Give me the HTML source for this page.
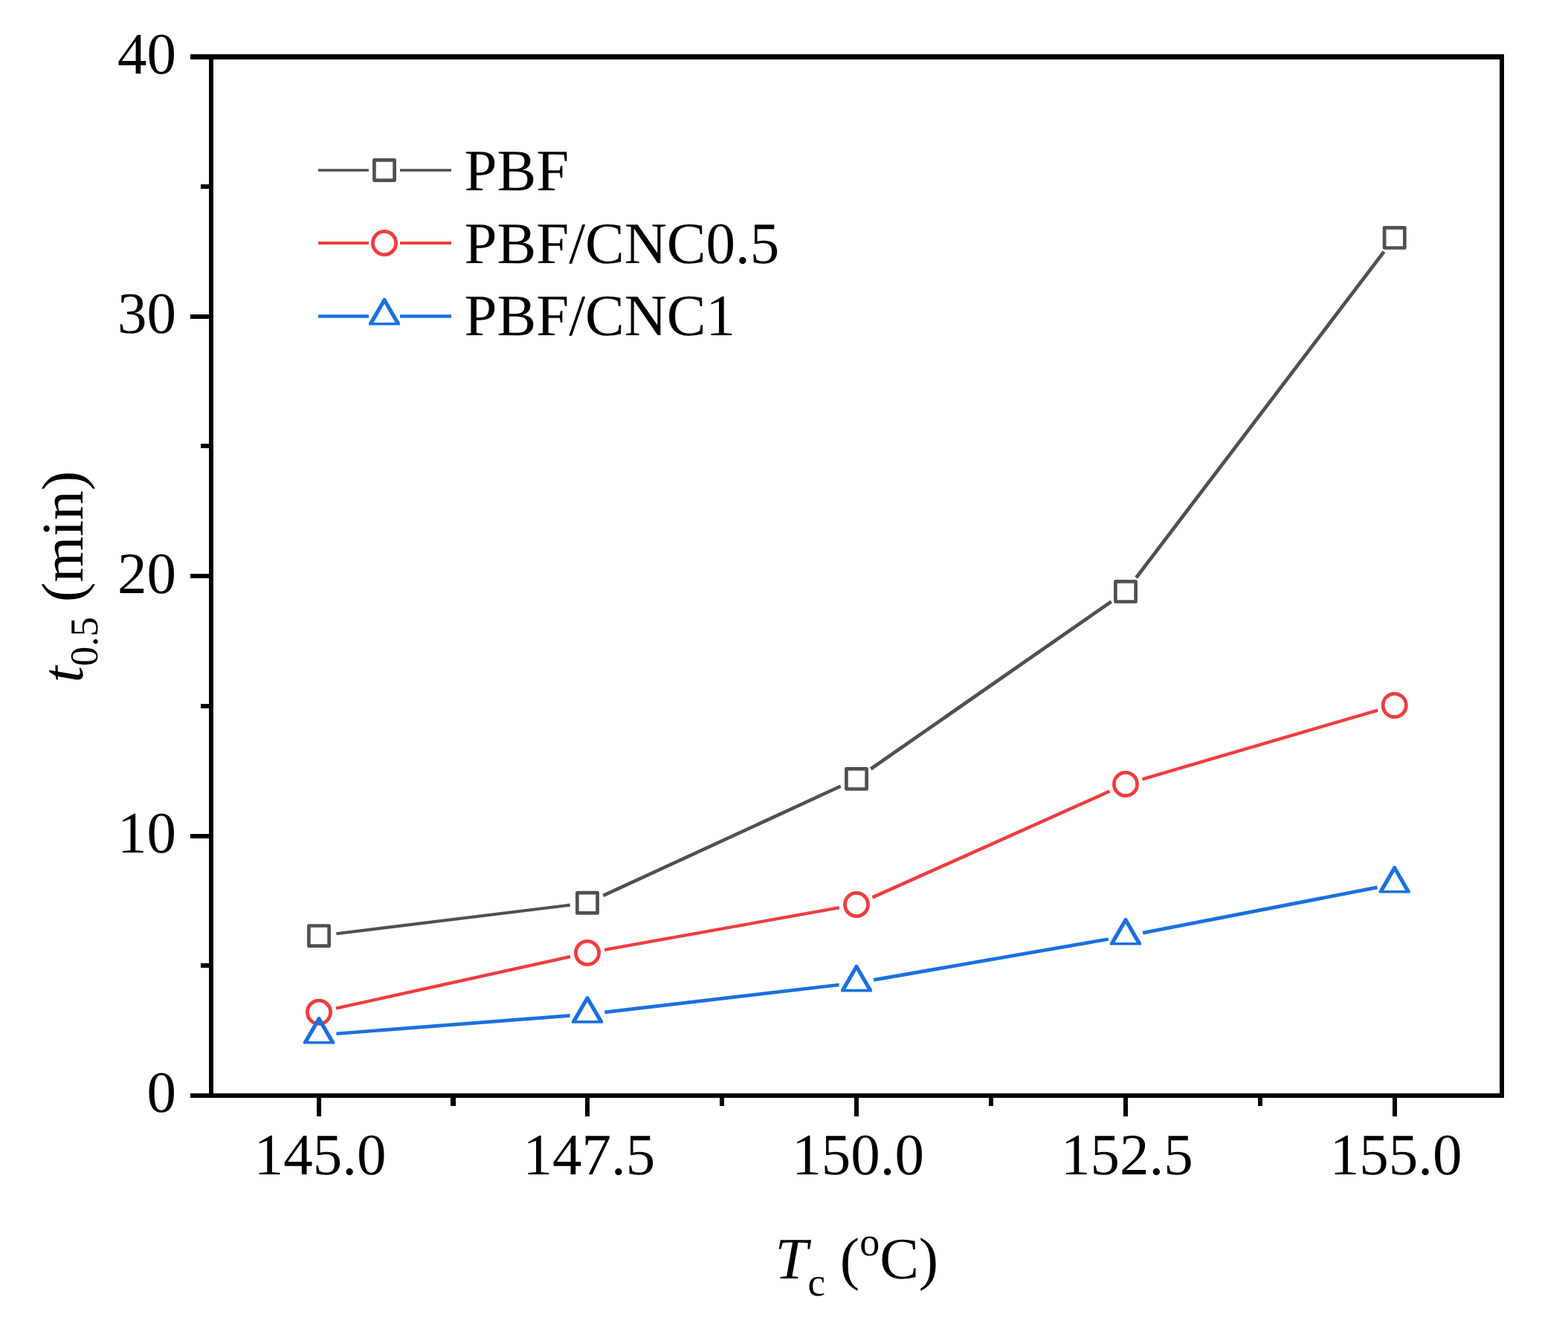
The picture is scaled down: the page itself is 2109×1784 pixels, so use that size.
<!DOCTYPE html>
<html><head><meta charset="utf-8"><title>t0.5 vs Tc</title>
<style>html,body{margin:0;padding:0;background:#fff;}svg{display:block;}text{font-family:'Liberation Serif', 'Times New Roman', serif;fill:#000;text-rendering:geometricPrecision;}</style></head><body>
<svg width="2109" height="1784" viewBox="0 0 2109 1784">
<rect x="0" y="0" width="2109" height="1784" fill="#fff"/>
<g fill="#000">
<rect x="281" y="73" width="6" height="1404"/>
<rect x="2017" y="73" width="6" height="1404"/>
<rect x="281" y="73" width="1742" height="7"/>
<rect x="281" y="1471" width="1742" height="6"/>
<rect x="256" y="1471" width="25" height="6"/>
<rect x="256" y="1122" width="25" height="6"/>
<rect x="256" y="772" width="25" height="6"/>
<rect x="256" y="423" width="25" height="6"/>
<rect x="256" y="73" width="25" height="7"/>
<rect x="270" y="1296" width="11" height="6"/>
<rect x="270" y="947" width="11" height="6"/>
<rect x="270" y="597" width="11" height="6"/>
<rect x="270" y="248" width="11" height="6"/>
<rect x="426" y="1477" width="6" height="25"/>
<rect x="787" y="1477" width="6" height="25"/>
<rect x="1149" y="1477" width="6" height="25"/>
<rect x="1511" y="1477" width="6" height="25"/>
<rect x="1873" y="1477" width="6" height="25"/>
<rect x="606" y="1477" width="7" height="11"/>
<rect x="968" y="1477" width="6" height="11"/>
<rect x="1330" y="1477" width="6" height="11"/>
<rect x="1692" y="1477" width="6" height="11"/>
</g>
<g font-size="79">
<text x="237" y="1496.30" text-anchor="end">0</text>
<text x="237" y="1146.92" text-anchor="end">10</text>
<text x="237" y="797.55" text-anchor="end">20</text>
<text x="237" y="448.18" text-anchor="end">30</text>
<text x="237" y="98.80" text-anchor="end">40</text>
<text x="430.50" y="1579.8" text-anchor="middle">145.0</text>
<text x="792.25" y="1579.8" text-anchor="middle">147.5</text>
<text x="1154.00" y="1579.8" text-anchor="middle">150.0</text>
<text x="1515.75" y="1579.8" text-anchor="middle">152.5</text>
<text x="1877.50" y="1579.8" text-anchor="middle">155.0</text>
</g>
<text x="1042.6" y="1720" font-size="79"><tspan font-style="italic">T</tspan><tspan font-size="53" dy="22.5">c</tspan><tspan dy="-22.5"> (</tspan><tspan font-size="54" dy="-31.4">o</tspan><tspan dy="31.4">C)</tspan></text>
<text transform="translate(111.2 918.3) rotate(-90)" x="0" y="0" font-size="79.5"><tspan font-style="italic">t</tspan><tspan font-size="53" dy="20.2">0.5</tspan><tspan dy="-20.2"> (min)</tspan></text>
<path d="M452.33 1256.24L766.67 1217.66" fill="none" stroke="#505050" stroke-width="4.19"/><path d="M811.34 1204.96L1130.66 1057.74" fill="none" stroke="#505050" stroke-width="4.61"/><path d="M1171.29 1034.47L1494.71 809.33" fill="none" stroke="#505050" stroke-width="4.75"/><path d="M1528.22 777.19L1861.48 338.61" fill="none" stroke="#505050" stroke-width="4.77"/>
<rect x="415.40" y="1245.50" width="27.20" height="27.20" fill="none" stroke="#505050" stroke-width="4.70" stroke-linejoin="round"/>
<rect x="776.40" y="1201.20" width="27.20" height="27.20" fill="none" stroke="#505050" stroke-width="4.70" stroke-linejoin="round"/>
<rect x="1138.40" y="1034.30" width="27.20" height="27.20" fill="none" stroke="#505050" stroke-width="4.70" stroke-linejoin="round"/>
<rect x="1500.40" y="782.30" width="27.20" height="27.20" fill="none" stroke="#505050" stroke-width="4.70" stroke-linejoin="round"/>
<rect x="1862.10" y="306.30" width="27.20" height="27.20" fill="none" stroke="#505050" stroke-width="4.70" stroke-linejoin="round"/>
<path d="M451.95 1356.73L767.05 1287.07" fill="none" stroke="#EE3D3F" stroke-width="4.34"/><path d="M813.13 1277.85L1128.87 1221.15" fill="none" stroke="#EE3D3F" stroke-width="4.28"/><path d="M1173.45 1207.40L1492.55 1064.50" fill="none" stroke="#EE3D3F" stroke-width="4.60"/><path d="M1536.55 1048.29L1853.15 955.51" fill="none" stroke="#EE3D3F" stroke-width="4.43"/>
<circle cx="429.00" cy="1361.80" r="15.60" fill="none" stroke="#EE3D3F" stroke-width="4.80"/>
<circle cx="790.00" cy="1282.00" r="15.60" fill="none" stroke="#EE3D3F" stroke-width="4.80"/>
<circle cx="1152.00" cy="1217.00" r="15.60" fill="none" stroke="#EE3D3F" stroke-width="4.80"/>
<circle cx="1514.00" cy="1054.90" r="15.60" fill="none" stroke="#EE3D3F" stroke-width="4.80"/>
<circle cx="1875.70" cy="948.90" r="15.60" fill="none" stroke="#EE3D3F" stroke-width="4.80"/>
<path d="M452.43 1390.69L766.57 1366.41" fill="none" stroke="#1B6FDF" stroke-width="4.62"/><path d="M813.34 1361.87L1128.66 1325.03" fill="none" stroke="#1B6FDF" stroke-width="4.68"/><path d="M1175.15 1318.28L1490.85 1263.52" fill="none" stroke="#1B6FDF" stroke-width="4.77"/><path d="M1537.07 1255.03L1852.63 1193.87" fill="none" stroke="#1B6FDF" stroke-width="4.80"/>
<path d="M427.53 1368.10L430.47 1368.10L450.00 1401.50L450.00 1404.60L408.00 1404.60L408.00 1401.50ZM429.00 1375.80L443.50 1401.00L414.50 1401.00Z" fill="#1B6FDF" fill-rule="evenodd"/>
<path d="M788.53 1340.20L791.47 1340.20L811.00 1373.60L811.00 1376.70L769.00 1376.70L769.00 1373.60ZM790.00 1347.90L804.50 1373.10L775.50 1373.10Z" fill="#1B6FDF" fill-rule="evenodd"/>
<path d="M1150.53 1297.90L1153.47 1297.90L1173.00 1331.30L1173.00 1334.40L1131.00 1334.40L1131.00 1331.30ZM1152.00 1305.60L1166.50 1330.80L1137.50 1330.80Z" fill="#1B6FDF" fill-rule="evenodd"/>
<path d="M1512.53 1235.10L1515.47 1235.10L1535.00 1268.50L1535.00 1271.60L1493.00 1271.60L1493.00 1268.50ZM1514.00 1242.80L1528.50 1268.00L1499.50 1268.00Z" fill="#1B6FDF" fill-rule="evenodd"/>
<path d="M1874.23 1165.00L1877.17 1165.00L1896.70 1198.40L1896.70 1201.50L1854.70 1201.50L1854.70 1198.40ZM1875.70 1172.70L1890.20 1197.90L1861.20 1197.90Z" fill="#1B6FDF" fill-rule="evenodd"/>
<path d="M428.00 229.00L496.00 229.00M538.00 229.00L607.00 229.00" stroke="#505050" stroke-width="3.60" fill="none"/>
<rect x="503.40" y="215.40" width="27.20" height="27.20" fill="none" stroke="#505050" stroke-width="4.70" stroke-linejoin="round"/>
<text x="624.6" y="255.70" font-size="79">PBF</text>
<path d="M428.00 327.00L496.00 327.00M538.00 327.00L607.00 327.00" stroke="#EE3D3F" stroke-width="3.80" fill="none"/>
<circle cx="517.00" cy="327.00" r="15.60" fill="none" stroke="#EE3D3F" stroke-width="4.80"/>
<text x="624.6" y="353.70" font-size="79">PBF/CNC0.5</text>
<path d="M428.00 425.50L496.00 425.50M538.00 425.50L607.00 425.50" stroke="#1B6FDF" stroke-width="4.70" fill="none"/>
<path d="M515.53 401.10L518.47 401.10L538.00 434.50L538.00 437.60L496.00 437.60L496.00 434.50ZM517.00 408.80L531.50 434.00L502.50 434.00Z" fill="#1B6FDF" fill-rule="evenodd"/>
<text x="624.6" y="451.30" font-size="79">PBF/CNC1</text>
</svg></body></html>
